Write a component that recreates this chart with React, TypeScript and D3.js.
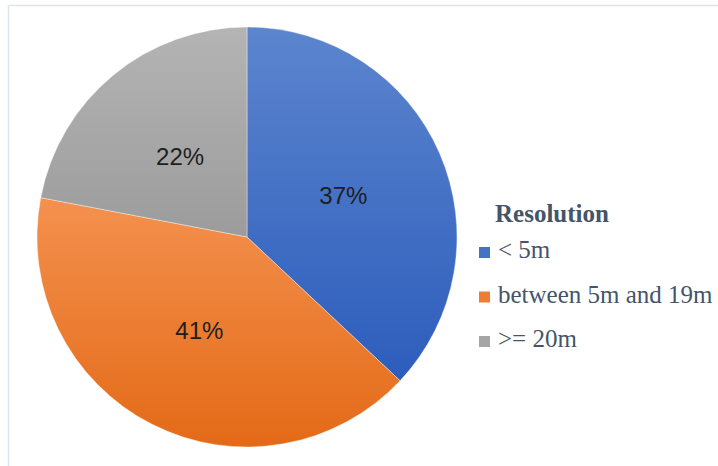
import * as d3 from 'd3';

// share of each resolution class, clockwise from 12 o'clock
const categories = ['< 5m', 'between 5m and 19m', '>= 20m'];
const shares = [37, 41, 22];
const legendTitle = 'Resolution';

// gradient stops per slice (top -> bottom)
const topColors = ['#5c85ce', '#f4914f', '#b4b4b4'];
const bottomColors = ['#2d5dbc', '#e36a17', '#9c9c9c'];
const swatchColors = ['#4472c4', '#ed7d31', '#a5a5a5'];

const width = 718;
const height = 466;
const cx = 247;
const cy = 237;
const radius = 210;

export default function App() {
    const pie = d3.pie<number>().sort(null).value(d => d);
    const arcs = pie(shares);
    const arc = d3.arc<d3.PieArcDatum<number>>().innerRadius(0).outerRadius(radius);
    const labelArc = d3.arc<d3.PieArcDatum<number>>().innerRadius(105).outerRadius(105);

    // legend rows
    const legendY = d3.scaleLinear().domain([0, 2]).range([258, 347]);

    return (
        <svg
            width={width}
            height={height}
            style={{ position: 'absolute', left: 0, top: 0, background: '#fff' }}
        >
            <defs>
                {arcs.map((_, i) => (
                    <linearGradient key={i} id={`grad-${i}`} x1="0" y1="0" x2="0" y2="1">
                        <stop offset="0%" stopColor={topColors[i]} />
                        <stop offset="100%" stopColor={bottomColors[i]} />
                    </linearGradient>
                ))}
            </defs>

            {/* frame */}
            <line x1={8.5} y1={5.5} x2={width} y2={5.5} stroke="#dfe4ea" strokeWidth={1.5} />
            <line x1={8.5} y1={5.5} x2={8.5} y2={height} stroke="#dfe4ea" strokeWidth={1.5} />

            <g transform={`translate(${cx},${cy})`}>
                {arcs.map((a, i) => (
                    <path
                        key={i}
                        d={arc(a) ?? ''}
                        fill={`url(#grad-${i})`}
                        stroke="#ffffff"
                        strokeOpacity={0.5}
                        strokeWidth={0.75}
                    />
                ))}
                {arcs.map((a, i) => {
                    const [x, y] = labelArc.centroid(a);
                    return (
                        <text
                            key={i}
                            x={x}
                            y={y}
                            dy="0.36em"
                            textAnchor="middle"
                            fontFamily="'Liberation Sans', Arial, sans-serif"
                            fontSize={24}
                            fill="#1e1e1e"
                        >
                            {`${shares[i]}%`}
                        </text>
                    );
                })}
            </g>

            <g fontFamily="'Liberation Serif', 'Times New Roman', serif" fill="#44546a">
                <text x={495} y={222} fontSize={25} fontWeight="bold">
                    {legendTitle}
                </text>
                {categories.map((c, i) => (
                    <g key={c}>
                        <rect
                            x={479}
                            y={legendY(i) - 11}
                            width={11}
                            height={11}
                            fill={swatchColors[i]}
                        />
                        <text x={498} y={legendY(i)} fontSize={25}>
                            {c}
                        </text>
                    </g>
                ))}
            </g>
        </svg>
    );
}
